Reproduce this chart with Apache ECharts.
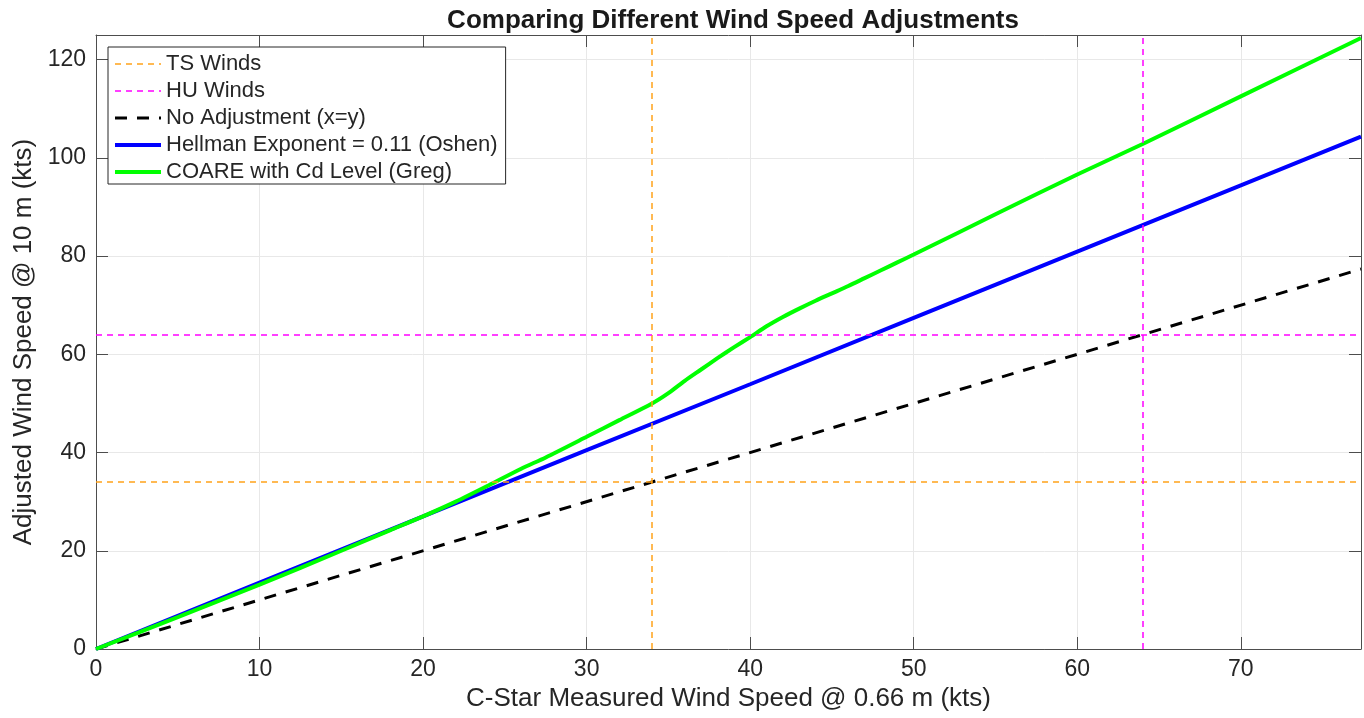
<!DOCTYPE html>
<html>
<head>
<meta charset="utf-8">
<script src="https://cdn.jsdelivr.net/npm/echarts@6/dist/echarts.min.js"></script>
<style>
  html, body { margin: 0; padding: 0; background: #fff; }
  #chart { width: 1364px; height: 718px; }
</style>
</head>
<body>
<div id="chart"></div>
<script>
// ---- data ----
const chartTitle = 'Comparing Different Wind Speed Adjustments';
const xAxisTitle = 'C-Star Measured Wind Speed @ 0.66 m (kts)';
const yAxisTitle = 'Adjusted Wind Speed @ 10 m (kts)';
const xMax = 77.35;
const yMax = 125;

const tsWinds = 34;   // tropical storm threshold (kts)
const huWinds = 64;   // hurricane threshold (kts)

const noAdjX = [0, 77.35];
const noAdjY = [0, 77.35];

const hellmanX = [0, 10, 20, 30, 40, 50, 60, 70, 77.35];
const hellmanY = [0, 13.5, 27.0, 40.5, 53.9, 67.4, 80.9, 94.4, 104.3];

const coareX = [0, 5, 10, 15, 18, 20, 22, 24, 26, 27.5, 30, 32, 34, 35, 36, 37, 38, 39, 40, 41, 42, 43, 44, 45, 46, 47, 48, 49, 50, 55, 60, 64, 70, 77.35];
const coareY = [0, 6.5, 13.1, 20.0, 24.2, 27.0, 30.0, 33.3, 36.7, 39.0, 43.2, 46.6, 50.0, 52.1, 54.6, 56.9, 59.2, 61.4, 63.5, 65.7, 67.6, 69.3, 70.9, 72.4, 73.9, 75.5, 77.1, 78.7, 80.3, 88.5, 96.6, 102.8, 112.5, 124.4];

const seriesNames = ['TS Winds', 'HU Winds', 'No Adjustment (x=y)', 'Hellman Exponent = 0.11 (Oshen)', 'COARE with Cd Level (Greg)'];

// ---- chart ----
const FONT = '"Liberation Sans", Arial, Helvetica, sans-serif';
const TXT = '#262626';
const AX = '#4d4d4d';
const GRID = '#e8e8e8';
const zip = (xs, ys) => xs.map((x, i) => [x, ys[i]]);

const chart = echarts.init(document.getElementById('chart'), null, { renderer: 'canvas' });

const labelFmt = step => v => (Math.abs(v % step) < 1e-9 ? String(v) : '');

const baseX = {
  type: 'value', min: 0, max: xMax, interval: 10,
  axisLine: { show: true, onZero: false, lineStyle: { color: AX, width: 1 } },
  axisTick: { show: true, inside: true, length: 12, lineStyle: { color: AX } },
};
const baseY = {
  type: 'value', min: 0, max: yMax, interval: 20,
  axisLine: { show: true, onZero: false, lineStyle: { color: AX, width: 1 } },
  axisTick: { show: true, inside: true, length: 12, lineStyle: { color: AX } },
};

const ORANGE = '#FFA31A';
const MAGENTA = '#FF00FF';
const thinDash = [6, 5];
const thickDash = [12, 10];

const option = {
  animation: false,
  backgroundColor: '#ffffff',
  textStyle: { fontFamily: FONT },
  grid: { left: 96, right: 1, top: 35, bottom: 69, containLabel: false },
  graphic: [{
    type: 'text', x: 733, y: 21,
    style: { text: chartTitle, fill: '#1a1a1a', font: 'bold 26px ' + FONT, textAlign: 'center', textVerticalAlign: 'middle' }
  }],
  legend: {
    orient: 'vertical', left: 108, top: 47,
    backgroundColor: '#ffffff', borderColor: '#262626', borderWidth: 1,
    padding: [6, 8, 1, 5],
    itemWidth: 46, itemHeight: 14, itemGap: 5,
    itemStyle: { opacity: 0, borderWidth: 0 },
    lineStyle: { width: 'inherit' },
    textStyle: { fontFamily: FONT, fontSize: 22, lineHeight: 22, color: TXT },
    data: seriesNames,
  },
  xAxis: [
    Object.assign({}, baseX, {
      position: 'bottom',
      name: xAxisTitle, nameLocation: 'middle', nameGap: 33,
      nameTextStyle: { fontFamily: FONT, fontSize: 26, color: TXT },
      axisLabel: { show: true, margin: 9, fontSize: 23, color: TXT, fontFamily: FONT, formatter: labelFmt(10) },
      splitLine: { show: true, lineStyle: { color: GRID, width: 1 } },
    }),
    Object.assign({}, baseX, {
      position: 'top', axisLabel: { show: false }, splitLine: { show: false },
    }),
  ],
  yAxis: [
    Object.assign({}, baseY, {
      position: 'left',
      name: yAxisTitle, nameLocation: 'middle', nameGap: 56, nameRotate: 90,
      nameTextStyle: { fontFamily: FONT, fontSize: 26, color: TXT },
      axisLabel: { show: true, margin: 10, fontSize: 23, color: TXT, fontFamily: FONT, formatter: labelFmt(20) },
      splitLine: { show: true, lineStyle: { color: GRID, width: 1 } },
    }),
    Object.assign({}, baseY, {
      position: 'right', axisLabel: { show: false }, splitLine: { show: false },
    }),
  ],
  series: [
    {
      name: seriesNames[0], type: 'line', xAxisIndex: 0, yAxisIndex: 0,
      data: [], symbol: 'none',
      itemStyle: { color: ORANGE },
      lineStyle: { color: ORANGE, width: 1.5, type: thinDash },
      markLine: {
        silent: true, symbol: ['none', 'none'], label: { show: false },
        lineStyle: { color: ORANGE, width: 1.5, type: thinDash },
        data: [{ xAxis: tsWinds }, { yAxis: tsWinds }],
      },
    },
    {
      name: seriesNames[1], type: 'line', xAxisIndex: 0, yAxisIndex: 0,
      data: [], symbol: 'none',
      itemStyle: { color: MAGENTA },
      lineStyle: { color: MAGENTA, width: 1.5, type: thinDash },
      markLine: {
        silent: true, symbol: ['none', 'none'], label: { show: false },
        lineStyle: { color: MAGENTA, width: 1.5, type: thinDash },
        data: [{ xAxis: huWinds }, { yAxis: huWinds }],
      },
    },
    {
      name: seriesNames[2], type: 'line', xAxisIndex: 0, yAxisIndex: 0,
      data: zip(noAdjX, noAdjY), symbol: 'none',
      itemStyle: { color: '#000000' },
      lineStyle: { color: '#000000', width: 3, type: thickDash },
    },
    {
      name: seriesNames[3], type: 'line', xAxisIndex: 0, yAxisIndex: 0,
      data: zip(hellmanX, hellmanY), symbol: 'none',
      itemStyle: { color: '#0000FF' },
      lineStyle: { color: '#0000FF', width: 4 },
    },
    {
      name: seriesNames[4], type: 'line', xAxisIndex: 0, yAxisIndex: 0,
      data: zip(coareX, coareY), symbol: 'none', smooth: 0.25,
      itemStyle: { color: '#00FF00' },
      lineStyle: { color: '#00FF00', width: 4 },
    },
  ],
};
chart.setOption(option);
</script>
</body>
</html>
